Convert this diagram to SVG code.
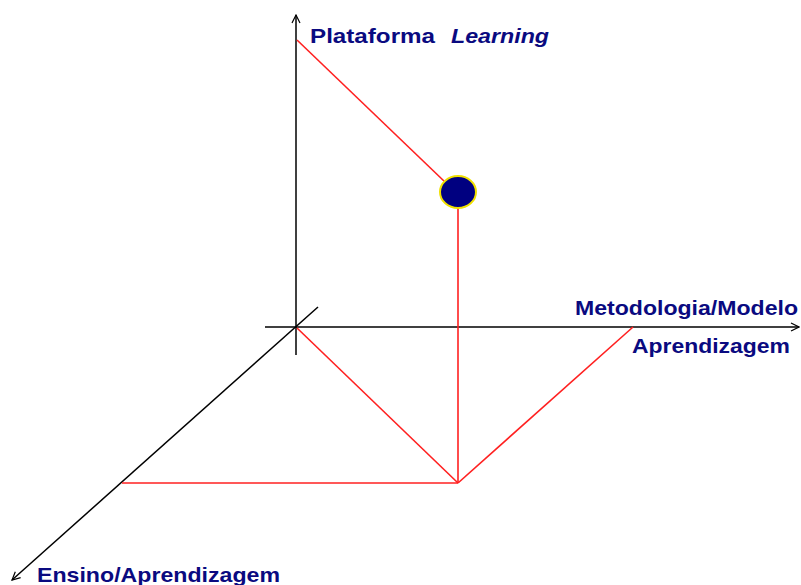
<svg xmlns="http://www.w3.org/2000/svg" width="801" height="585" viewBox="0 0 801 585">
<style>
.axis{stroke:#000;stroke-width:1.5;fill:none}
.red{stroke:#ff2020;stroke-width:1.6;fill:none}
.lbl{font-family:"Liberation Sans",Arial,sans-serif;font-weight:bold;font-size:21px;fill:#0a0a80}
</style>
<defs>
<marker id="arr" viewBox="0 0 10 10" refX="9" refY="5" markerWidth="10" markerHeight="10" markerUnits="userSpaceOnUse" orient="auto">
<path d="M1,1 L9,5 L1,9" fill="none" stroke="#000" stroke-width="1.2"/>
</marker>
</defs>
<rect width="801" height="585" fill="#fff"/>
<g id="connectors">
<line class="axis" x1="296" y1="355" x2="296" y2="15" marker-end="url(#arr)"/>
<line class="axis" x1="265" y1="327" x2="799" y2="327" marker-end="url(#arr)"/>
<line class="axis" x1="318" y1="307" x2="12" y2="580" stroke="#333" marker-end="url(#arr)"/>
<line class="red" x1="297" y1="40" x2="445" y2="182"/>
<line class="red" x1="458" y1="207" x2="458" y2="483"/>
<line class="red" x1="297" y1="328" x2="458" y2="483"/>
<line class="red" x1="458" y1="483" x2="633" y2="327"/>
<line class="red" x1="122" y1="483" x2="458" y2="483"/>
</g>
<g id="point">
<ellipse cx="458" cy="192" rx="18" ry="16" fill="#000080" stroke="#f0e000" stroke-width="2"/>
</g>
<g id="label-plataforma">
<text class="lbl" x="310" y="43" textLength="125" lengthAdjust="spacingAndGlyphs">Plataforma</text>
<text class="lbl" x="451" y="43" font-style="italic" textLength="98" lengthAdjust="spacingAndGlyphs">Learning</text>
</g>
<g id="label-metodologia">
<text class="lbl" x="575" y="315" textLength="223" lengthAdjust="spacingAndGlyphs">Metodologia/Modelo</text>
<text class="lbl" x="632" y="353" textLength="158" lengthAdjust="spacingAndGlyphs">Aprendizagem</text>
</g>
<g id="label-ensino">
<text class="lbl" x="37" y="582" textLength="243" lengthAdjust="spacingAndGlyphs">Ensino/Aprendizagem</text>
</g>
</svg>
